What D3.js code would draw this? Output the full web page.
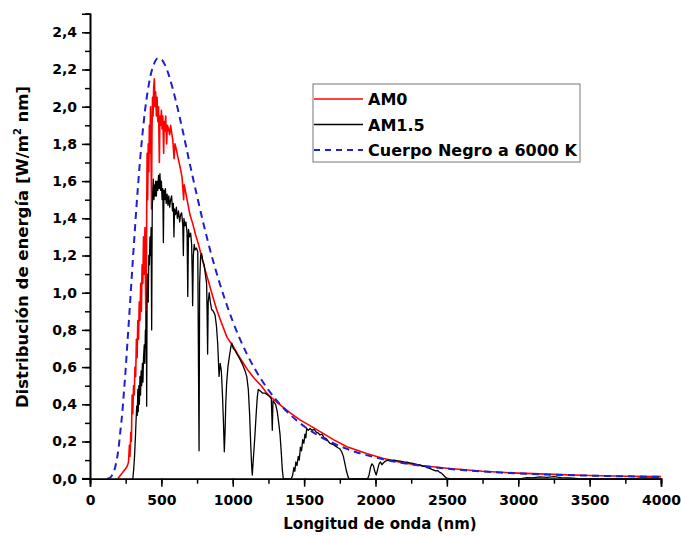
<!DOCTYPE html>
<html>
<head>
<meta charset="utf-8">
<script src="https://cdn.jsdelivr.net/npm/d3@7"></script>
<style>
  body { margin: 0; background: #fff; }
  svg text { font-family: "DejaVu Sans", sans-serif; font-weight: bold; fill: #000; }
</style>
</head>
<body>
<div id="chart"></div>
<script>
// wavelength (nm), spectral irradiance (W/m2 nm)
const am0 = [
  [195,0],[205,0.01],[215,0.02],[225,0.03],[235,0.04],[245,0.05],[255,0.06],[262,0.07],[270,0.09],
  [276,0.18],[280,0.12],[286,0.25],[290,0.2],[295,0.45],[300,0.35],[305,0.5],[310,0.45],[315,0.6],
  [320,0.55],[325,0.75],[330,0.65],[335,0.85],[340,0.75],[345,0.95],[350,0.85],[355,1.05],[360,0.9],
  [365,1.15],[370,1.05],[375,1.3],[380,1.1],[385,1.35],[390,0.95],[393,0.75],[397,1.4],[400,1.75],
  [404,1.5],[408,1.8],[412,1.65],[416,1.9],[420,1.75],[424,2.0],[428,1.7],[431,1.45],[434,1.85],
  [438,2.05],[442,1.95],[446,2.1],[451,2.15],[455,2.0],[460,2.08],[465,1.95],[470,2.05],[475,1.92],
  [480,2.0],[486,1.7],[490,1.95],[495,1.9],[500,1.98],[505,1.88],[510,1.95],[516,1.75],[520,1.92],
  [525,1.87],[530,1.95],[537,1.8],[542,1.9],[550,1.88],[558,1.85],[565,1.9],[572,1.86],[580,1.82],
  [589,1.72],[595,1.8],[605,1.77],[615,1.73],[630,1.68],[645,1.62],[656,1.5],[660,1.58],[675,1.52],
  [690,1.46],[700,1.42],[720,1.37],[740,1.31],[760,1.26],[780,1.2],[800,1.14],[830,1.06],[860,0.98],
  [887,0.91],[920,0.84],[960,0.76],[1004,0.71],[1050,0.65],[1100,0.59],[1150,0.54],[1200,0.5],
  [1238,0.46],[1280,0.43],[1319,0.405],[1400,0.355],[1471,0.316],[1553,0.28],[1630,0.245],[1705,0.21],
  [1800,0.172],[1938,0.135],[2050,0.11],[2172,0.088],[2300,0.072],[2500,0.056],[2750,0.04],[3000,0.03],
  [3250,0.023],[3500,0.017],[3750,0.013],[4000,0.011]
];

const am15 = [
  [290,0],[300,0],[306,0.05],[312,0.12],[318,0.22],[322,0.3],[327,0.39],[331,0.34],[335,0.48],[338,0.36],
  [342,0.5],[346,0.4],[350,0.55],[354,0.45],[358,0.58],[362,0.5],[367,0.62],[371,0.52],[375,0.65],[380,0.72],
  [384,0.62],[388,0.8],[392,0.7],[395,0.9],[397,0.39],[400,1.0],[404,1.1],[408,0.95],[412,1.2],[416,1.15],
  [420,1.3],[424,1.2],[428,1.35],[432,0.8],[436,1.45],[440,1.55],[444,1.61],[448,1.5],[452,1.58],[456,1.52],
  [460,1.6],[465,1.52],[470,1.6],[475,1.55],[480,1.63],[485,1.56],[490,1.64],[495,1.55],[500,1.6],[505,1.5],
  [510,1.56],[514,1.27],[518,1.55],[523,1.5],[528,1.56],[534,1.48],[540,1.53],[546,1.47],[552,1.52],[558,1.46],
  [565,1.5],[572,1.52],[578,1.44],[584,1.48],[588,1.3],[592,1.45],[598,1.42],[605,1.46],[612,1.4],[620,1.44],
  [628,1.38],[635,1.42],[642,1.43],[650,1.36],[654,1.2],[658,1.4],[665,1.36],[672,1.38],[680,1.32],[685,0.98],
  [690,1.34],[697,1.3],[705,1.32],[712,1.26],[716,1.1],[719,0.93],[724,1.2],[730,1.26],[736,1.23],[745,1.24],
  [755,1.22],[760,0.6],[764,0.15],[768,1.05],[775,1.2],[782,1.21],[790,1.17],[800,1.15],[808,1.1],[817,1.05],
  [821,0.85],[824,0.67],[828,0.95],[835,1.0],[843,0.95],[852,0.91],[864,0.9],[876,0.88],[886,0.82],[895,0.72],
  [904,0.55],[912,0.62],[920,0.58],[928,0.45],[935,0.3],[941,0.145],[946,0.25],[951,0.4],[957,0.51],[966,0.6],
  [975,0.65],[985,0.7],[993,0.73],[1004,0.7],[1016,0.69],[1030,0.67],[1045,0.65],[1065,0.62],[1086,0.58],
  [1098,0.55],[1109,0.48],[1118,0.35],[1126,0.18],[1133,0.06],[1137,0.02],[1142,0.08],[1148,0.15],[1156,0.24],
  [1165,0.36],[1172,0.44],[1179,0.48],[1195,0.47],[1210,0.46],[1226,0.46],[1245,0.45],[1260,0.44],[1270,0.43],
  [1277,0.26],[1282,0.42],[1290,0.41],[1300,0.4],[1312,0.36],[1322,0.3],[1331,0.24],[1340,0.14],[1347,0.05],
  [1354,0],[1410,0],[1420,0.02],[1428,0.06],[1435,0.04],[1442,0.09],[1450,0.07],[1459,0.12],[1466,0.1],
  [1474,0.17],[1482,0.15],[1490,0.21],[1498,0.19],[1506,0.24],[1512,0.22],[1518,0.27],[1530,0.26],[1541,0.27],
  [1555,0.26],[1570,0.265],[1585,0.25],[1600,0.245],[1611,0.235],[1625,0.24],[1640,0.22],[1655,0.215],[1670,0.2],
  [1681,0.19],[1700,0.185],[1720,0.175],[1740,0.165],[1751,0.16],[1763,0.145],[1775,0.12],[1786,0.08],
  [1797,0.04],[1808,0.01],[1815,0],[1945,0],[1955,0.02],[1965,0.06],[1975,0.08],[1985,0.07],[1995,0.04],
  [2005,0.02],[2015,0.05],[2025,0.08],[2035,0.09],[2045,0.075],[2055,0.085],[2070,0.095],[2090,0.1],[2110,0.098],
  [2130,0.1],[2150,0.097],[2172,0.095],[2200,0.09],[2230,0.087],[2260,0.082],[2290,0.077],[2312,0.074],
  [2330,0.066],[2345,0.068],[2360,0.06],[2380,0.055],[2395,0.05],[2405,0.047],[2420,0.042],[2435,0.044],
  [2450,0.034],[2462,0.03],[2475,0.02],[2490,0.008],[2500,0.003],[2520,0],[3020,0],[3060,0.006],[3100,0.004],
  [3150,0.01],[3200,0.007],[3250,0.011],[3300,0.006],[3360,0.004],[3420,0],[3820,0],[3860,0.004],[3920,0.003],
  [3960,0.004],[4000,0]
];

const blackbody = [
  [120,0],[140,0.005],[150,0.013],[162,0.03],[175,0.058],[187,0.1],[200,0.164],[212,0.25],[225,0.345],
  [237,0.46],[250,0.591],[262,0.73],[275,0.878],[287,1.02],[300,1.174],[312,1.31],[325,1.458],[337,1.58],
  [350,1.706],[362,1.81],[375,1.907],[387,1.99],[400,2.062],[425,2.17],[450,2.233],[475,2.26],[500,2.255],
  [525,2.225],[550,2.175],[575,2.11],[600,2.036],[650,1.869],[700,1.69],[750,1.519],[800,1.355],[850,1.205],
  [900,1.072],[1000,0.846],[1100,0.669],[1200,0.533],[1300,0.428],[1400,0.346],[1500,0.282],[1600,0.232],
  [1800,0.16],[2000,0.114],[2250,0.077],[2500,0.054],[2750,0.0386],[3000,0.0284],[3500,0.0164],[4000,0.0101]
];

const xMajor = [0, 500, 1000, 1500, 2000, 2500, 3000, 3500, 4000];
const yMajor = [0, 0.2, 0.4, 0.6, 0.8, 1.0, 1.2, 1.4, 1.6, 1.8, 2.0, 2.2, 2.4];
const seriesNames = ["AM0", "AM1.5", "Cuerpo Negro a 6000 K"];

const width = 681, height = 536;
const margin = { left: 90, right: 20, top: 13.7, bottom: 57.3 };

const svg = d3.select('#chart').append('svg')
  .attr('width', width)
  .attr('height', height);

const x = d3.scaleLinear().domain([0, 4000]).range([margin.left, width - margin.right]);
const y = d3.scaleLinear().domain([0, 2.5]).range([height - margin.bottom, margin.top]);

const es = d3.formatLocale({ decimal: ",", thousands: ".", grouping: [3], currency: ["", ""] });
const fmt = es.format(".1f");

// clip lines to the plot area
svg.append('defs').append('clipPath').attr('id', 'clip')
  .append('rect')
  .attr('x', margin.left).attr('y', margin.top - 2)
  .attr('width', x(4000) - margin.left + 2)
  .attr('height', y(0) - margin.top + 2);

const line = d3.line().x(d => x(d[0])).y(d => y(d[1]));
const smooth = d3.line().x(d => x(d[0])).y(d => y(d[1])).curve(d3.curveMonotoneX);

const plot = svg.append('g').attr('clip-path', 'url(#clip)');

plot.append('path').datum(am0)
  .attr('d', line).attr('fill', 'none')
  .attr('stroke', '#ff0000').attr('stroke-width', 1.6).attr('stroke-linejoin', 'round');

plot.append('path').datum(am15)
  .attr('d', line).attr('fill', 'none')
  .attr('stroke', '#000').attr('stroke-width', 1.3).attr('stroke-linejoin', 'round');

plot.append('path').datum(blackbody)
  .attr('d', smooth).attr('fill', 'none')
  .attr('stroke', '#1f1fcf').attr('stroke-width', 2).attr('stroke-dasharray', '7,5');

// axes: minor ticks first, then major with labels
const xMinor = svg.append('g').attr('transform', `translate(0,${y(0)})`)
  .call(d3.axisBottom(x).tickValues(d3.range(0, 4001, 250)).tickSize(5).tickFormat(''));
const xAxis = svg.append('g').attr('transform', `translate(0,${y(0)})`)
  .call(d3.axisBottom(x).tickValues(xMajor).tickSize(8).tickPadding(8).tickFormat(d3.format('d')));

const yMinor = svg.append('g').attr('transform', `translate(${margin.left},0)`)
  .call(d3.axisLeft(y).tickValues(d3.range(0, 26).map(i => i / 10)).tickSize(5).tickFormat(''));
const yAxis = svg.append('g').attr('transform', `translate(${margin.left},0)`)
  .call(d3.axisLeft(y).tickValues(yMajor).tickSize(8).tickPadding(5).tickFormat(fmt));

[xMinor, xAxis, yMinor, yAxis].forEach(a => {
  a.select('.domain').attr('stroke', '#000').attr('stroke-width', 1.6);
  a.selectAll('.tick line').attr('stroke', '#000').attr('stroke-width', 1.5);
  a.selectAll('.tick text').attr('font-size', 14).attr('font-family', '"DejaVu Sans", sans-serif')
    .attr('font-weight', 'bold');
});
// extend the x axis line a bit to the left like the original
svg.append('line')
  .attr('x1', margin.left - 8).attr('x2', margin.left)
  .attr('y1', y(0)).attr('y2', y(0))
  .attr('stroke', '#000').attr('stroke-width', 1.6);

// axis titles
svg.append('text')
  .attr('x', 380).attr('y', 529)
  .attr('text-anchor', 'middle')
  .attr('font-size', 15)
  .text('Longitud de onda (nm)');

const yTitle = svg.append('text')
  .attr('transform', 'translate(28,247) rotate(-90)')
  .attr('text-anchor', 'middle')
  .attr('font-size', 16.5);
yTitle.append('tspan').text('Distribución de energía [W/m');
yTitle.append('tspan').attr('font-size', 10).attr('dy', -7).text('2');
yTitle.append('tspan').attr('dy', 7).text(' nm]');

// legend
const legend = svg.append('g');
legend.append('rect')
  .attr('x', 313).attr('y', 84).attr('width', 267).attr('height', 78)
  .attr('fill', 'none').attr('stroke', '#777').attr('stroke-width', 1);

const legendStyles = [
  { color: '#ff0000', dash: null, w: 1.6 },
  { color: '#000', dash: null, w: 1.3 },
  { color: '#1f1fcf', dash: '6,5', w: 2 }
];
seriesNames.forEach((name, i) => {
  const ly = 99 + i * 25.5;
  legend.append('line')
    .attr('x1', 314).attr('x2', 363).attr('y1', ly).attr('y2', ly)
    .attr('stroke', legendStyles[i].color)
    .attr('stroke-width', legendStyles[i].w)
    .attr('stroke-dasharray', legendStyles[i].dash);
  legend.append('text')
    .attr('x', 368).attr('y', ly + 6)
    .attr('font-size', 16)
    .text(name);
});
</script>
</body>
</html>
